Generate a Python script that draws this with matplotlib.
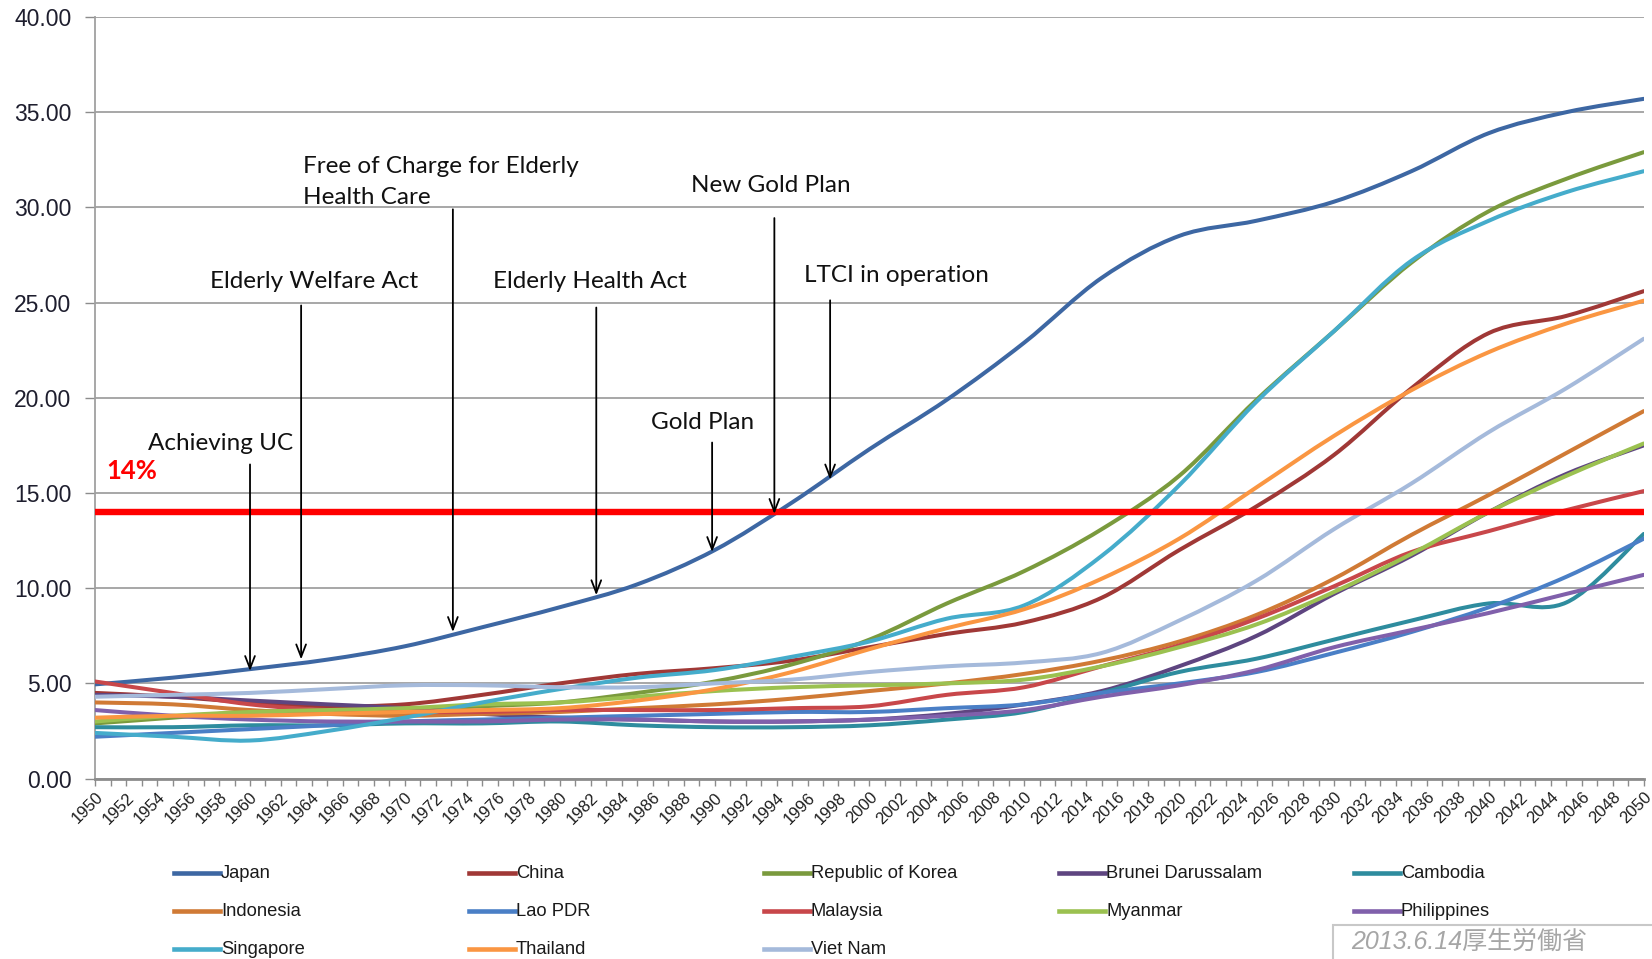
import numpy as np
import matplotlib
matplotlib.use('Agg')
import matplotlib.pyplot as plt
from matplotlib.path import Path
from matplotlib.patches import PathPatch, Rectangle
from matplotlib.lines import Line2D

# share of population aged 65+ (%), 5-year steps
years = list(range(1950, 2051, 5))

japan = [4.95, 5.3, 5.75, 6.25, 6.95, 7.95, 9.0, 10.2, 12.0, 14.5, 17.3, 19.9, 22.9, 26.3, 28.5, 29.3, 30.3, 31.9, 33.9, 35.0, 35.7]
china = [4.5, 4.3, 4.0, 3.8, 3.9, 4.4, 5.0, 5.5, 5.8, 6.2, 6.9, 7.6, 8.2, 9.5, 12.0, 14.3, 17.0, 20.5, 23.4, 24.3, 25.6]
korea = [2.9, 3.2, 3.5, 3.5, 3.6, 3.8, 4.0, 4.5, 5.1, 6.0, 7.3, 9.2, 10.9, 13.1, 15.9, 19.9, 23.5, 27.1, 29.8, 31.5, 32.9]
brunei = [4.4, 4.3, 4.1, 3.9, 3.7, 3.4, 3.2, 3.1, 3.0, 3.0, 3.1, 3.4, 3.9, 4.6, 5.9, 7.5, 9.7, 11.7, 14.0, 16.0, 17.5]
cambodia = [2.7, 2.7, 2.8, 2.8, 2.9, 2.9, 3.0, 2.8, 2.7, 2.7, 2.8, 3.1, 3.5, 4.5, 5.6, 6.3, 7.3, 8.3, 9.2, 9.25, 12.85]
indonesia = [4.0, 3.9, 3.6, 3.4, 3.3, 3.4, 3.5, 3.7, 3.9, 4.2, 4.6, 5.0, 5.5, 6.2, 7.2, 8.6, 10.5, 12.8, 14.9, 17.1, 19.3]
lao = [2.2, 2.4, 2.6, 2.8, 3.0, 3.1, 3.2, 3.3, 3.4, 3.5, 3.5, 3.7, 3.9, 4.5, 5.0, 5.6, 6.6, 7.7, 9.0, 10.6, 12.6]
malaysia = [5.1, 4.5, 3.9, 3.6, 3.5, 3.5, 3.6, 3.6, 3.6, 3.7, 3.8, 4.4, 4.8, 5.9, 7.0, 8.4, 10.1, 11.9, 13.0, 14.1, 15.1]
myanmar = [3.0, 3.3, 3.5, 3.6, 3.7, 3.9, 4.0, 4.3, 4.6, 4.8, 4.9, 5.0, 5.2, 5.9, 6.9, 8.1, 9.8, 11.8, 14.0, 15.9, 17.6]
philippines = [3.6, 3.3, 3.1, 3.0, 3.0, 3.0, 3.1, 3.1, 3.0, 3.0, 3.1, 3.3, 3.6, 4.3, 4.9, 5.7, 6.9, 7.8, 8.7, 9.7, 10.7]
singapore = [2.4, 2.2, 2.0, 2.5, 3.2, 4.0, 4.7, 5.3, 5.7, 6.4, 7.2, 8.4, 9.1, 11.7, 15.4, 19.8, 23.5, 27.2, 29.3, 30.8, 31.9]
thailand = [3.2, 3.3, 3.3, 3.4, 3.5, 3.6, 3.7, 4.1, 4.7, 5.6, 6.8, 7.9, 8.9, 10.5, 12.6, 15.3, 18.0, 20.4, 22.4, 23.9, 25.1]
vietnam = [4.3, 4.4, 4.5, 4.7, 4.9, 4.9, 4.8, 4.8, 5.0, 5.2, 5.6, 5.9, 6.1, 6.6, 8.3, 10.4, 13.1, 15.5, 18.2, 20.5, 23.1]

names = ['Japan', 'China', 'Republic of Korea', 'Brunei Darussalam', 'Cambodia',
         'Indonesia', 'Lao PDR', 'Malaysia', 'Myanmar', 'Philippines',
         'Singapore', 'Thailand', 'Viet Nam']
series = [japan, china, korea, brunei, cambodia, indonesia, lao, malaysia,
          myanmar, philippines, singapore, thailand, vietnam]
colors = ['#3D67A3', '#A03836', '#7A9A3D', '#5E4580', '#2E8C9E',
          '#D07A35', '#4A7FC6', '#C8474A', '#9BC150', '#8060AB',
          '#45ACCB', '#FA9642', '#A5BADB']

# (label, text x, text y, arrow x, arrow start y, arrow tip y)
events = [
    ('Achieving UC', 1953.4, 17.6, 1960.0, 16.5, 5.65),
    ('Elderly Welfare Act', 1957.4, 26.1, 1963.3, 24.85, 6.26),
    ('Free of Charge for Elderly\nHealth Care', 1963.4, 31.35, 1973.1, 29.9, 7.7),
    ('Elderly Health Act', 1975.7, 26.1, 1982.36, 24.74, 9.63),
    ('Gold Plan', 1985.9, 18.7, 1989.84, 17.65, 11.9),
    ('New Gold Plan', 1988.5, 31.15, 1993.86, 29.44, 13.9),
    ('LTCI in operation', 1995.8, 26.4, 1997.46, 25.12, 15.71),
]
threshold = 14.0


def smooth_path(x, y):
    """Excel-style smoothed line through the points (Catmull-Rom as Bezier)."""
    pts = np.column_stack([x, y]).astype(float)
    n = len(pts)
    verts = [pts[0]]
    codes = [Path.MOVETO]
    for i in range(n - 1):
        p0 = pts[i - 1] if i > 0 else pts[i]
        p1, p2 = pts[i], pts[i + 1]
        p3 = pts[i + 2] if i + 2 < n else pts[i + 1]
        verts += [p1 + (p2 - p0) / 6, p2 - (p3 - p1) / 6, p2]
        codes += [Path.CURVE4] * 3
    return Path(verts, codes)


fig = plt.figure(figsize=(16.52, 9.59), dpi=100)
ax = fig.add_axes([0.0576, 0.1881, 0.9374, 0.7942])

for vals, col in zip(series, colors):
    patch = PathPatch(smooth_path(years, vals), facecolor='none', edgecolor=col,
                      lw=2.9, capstyle='round', joinstyle='round', zorder=3)
    ax.add_patch(patch)

ax.axhline(threshold, color='#FF0000', lw=4.6, zorder=5)

ax.set_xlim(1950, 2050)
ax.set_ylim(0, 40)
ax.set_yticks(np.arange(0, 41, 5))
ax.set_yticklabels([f'{v:.2f}' for v in np.arange(0, 41, 5)],
                   fontsize=16.5, family='Liberation Sans', color='#1E1E2E')
ax.set_xticks(range(1950, 2051))
ax.set_xticklabels([str(y) if y % 2 == 0 else '' for y in range(1950, 2051)],
                   rotation=45, ha='right', rotation_mode='anchor',
                   fontsize=12, family='Liberation Sans', color='#1E1E1E')
ax.tick_params(axis='x', length=5, width=1, color='#8C8C8C', pad=3)
ax.tick_params(axis='y', length=7, width=1, color='#8C8C8C', pad=10)
ax.yaxis.grid(True, color='#A0A0A0', lw=1.3)
ax.set_axisbelow(True)
for side in ['top', 'right']:
    ax.spines[side].set_visible(False)
ax.spines['left'].set_color('#A0A0A0')
ax.spines['left'].set_linewidth(1.3)
ax.spines['bottom'].set_color('#8C8C8C')
ax.spines['bottom'].set_linewidth(2)

for label, tx, ty, axx, y0, y1 in events:
    ax.text(tx, ty, label, fontsize=17.5, family='Lato', color='#111111',
            va='center', ha='left', linespacing=1.6, zorder=6)
    ax.annotate('', xy=(axx, y1), xytext=(axx, y0),
                arrowprops=dict(arrowstyle='->,head_length=0.9,head_width=0.35',
                                lw=1.3, color='black', shrinkA=0, shrinkB=0),
                zorder=6)

ax.text(1950.7, 16.16, '14%', fontsize=18.5, family='Lato', fontweight='bold',
        color='#FF0000', va='center', ha='left', zorder=6)

# legend laid out like the Excel one: 5 evenly spaced columns, row by row
W, H = 1652.0, 959.0
col_x = [174, 469, 764, 1059, 1354]
row_y = [873, 911, 949]
for i, (name, col) in enumerate(zip(names, colors)):
    r, c = divmod(i, 5)
    x0 = col_x[c]
    y0 = row_y[r]
    fig.add_artist(Line2D([x0 / W, (x0 + 46) / W], [1 - y0 / H, 1 - y0 / H],
                          color=col, lw=3.3, transform=fig.transFigure))
    fig.text((x0 + 47) / W, 1 - y0 / H, name, fontsize=13.2, family='Liberation Sans',
             color='#1A1A1A', va='center', ha='left')

# source stamp in the bottom right corner
fig.add_artist(Rectangle((1333 / W, -0.02), 0.25, 0.02 + 34 / H, transform=fig.transFigure,
                         facecolor='white', edgecolor='#C8C8C8', lw=1.5))
fig.text(1351 / W, 1 - 942 / H, '2013.6.14厚生労働省', fontsize=18, style='italic',
         family=['Liberation Sans', 'Noto Sans CJK JP'], color='#A6A6A6',
         va='center', ha='left')

fig.savefig('out.png', dpi=100)
